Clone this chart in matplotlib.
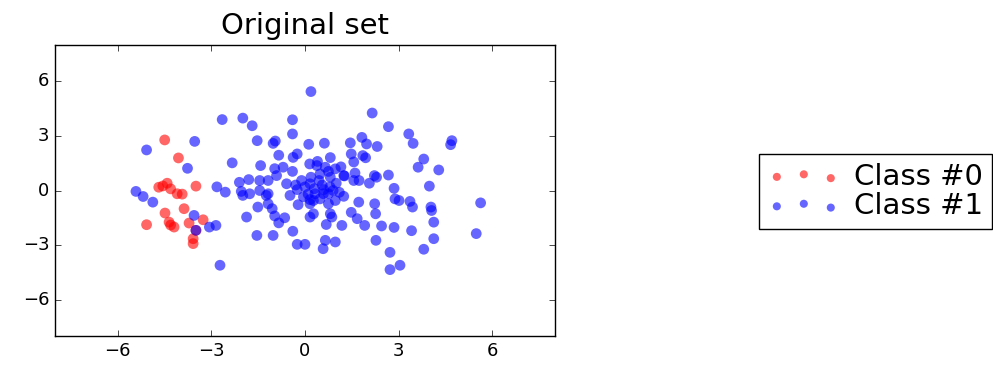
import numpy as np
import matplotlib
matplotlib.use("Agg")
import matplotlib.pyplot as plt

plt.style.use("classic")

# ── Data ──────────────────────────────────────────────────────────────────────
class0_x = [-4.49, -4.05, -3.49, -4.68, -4.41, -4.30, -4.09, -3.93, -3.87, -4.48,
            -5.07, -4.35, -4.30, -4.19, -3.71, -3.26, -3.49, -3.58, -3.58, -4.55]
class0_y = [2.78, 1.79, 0.24, 0.18, 0.40, 0.09, -0.18, -0.20, -1.00, -1.24,
            -1.88, -1.74, -1.90, -2.01, -1.79, -1.61, -2.19, -2.65, -2.92, 0.25]

class1_x = [
    # left
    -5.07, -3.53, -3.76, -2.65, -5.41, -5.18, -4.87, -3.55, -3.49, -3.06,
    -2.85, -2.72, -2.82, -2.55,
    # upper
    0.19, -1.99, -1.69, -0.40, 2.15, 2.67, -0.40, -1.53, -0.95, -1.02,
    0.12, 0.62, 1.45, 1.82, 1.97, 2.31, 3.32, 3.46, 4.70, 4.66,
    -0.84, -0.25, -0.38, -2.33, -1.42, 0.81, 1.48, 1.56, 1.85, 1.94,
    0.15, 0.38, 0.65, 0.97, -0.70, -0.97, -0.40, 3.80, 3.62, 4.28,
    1.26, 1.60, 2.22, 2.29, 2.67, 3.98, 2.85, -0.91,
    # central band
    -2.10, -2.04, -1.99, -1.77, -1.80, -1.45, -1.45, -1.18, -1.18, -1.24,
    -1.18, -1.51, -1.87, -1.05, -0.97, -0.84, -0.65, -1.54, -1.02, -0.39,
    -0.25, 0.00, -0.48, -0.25, -0.22, 0.16, 0.16, 0.27, -0.59, -0.11,
    0.16, 0.19, 0.48, 0.81, 1.24, 1.56, 1.73, 2.06, 0.32, 0.48,
    0.59, 0.75, 0.75, 0.97, 1.24, 1.72, 2.23, 2.88, 3.01, 3.36,
    3.44, 4.03, 4.05, 4.12, 5.62, 5.48, 2.26, 1.48, 1.67, 1.91,
    2.45, 2.85, 3.41, 2.27, 1.18, 0.68, 0.65, 0.58, 0.97, 2.72,
    2.72, 3.04, 3.80, 4.12, 0.16, 0.27, 0.81, 0.86,
    # dense core
    0.00, 0.30, 0.55, 0.80, 1.00, 0.45, -0.30, 0.10, 0.90, 1.10,
    0.60, -0.05, 0.75, 1.15, 0.40,
]
class1_y = [
    # left
    2.23, 2.70, 1.22, 3.90, -0.05, -0.33, -0.64, -1.37, -2.19, -2.01,
    -1.92, -4.11, 0.20, -0.09,
    # upper
    5.44, 3.98, 3.56, 3.89, 4.26, 3.51, 3.11, 2.74, 2.72, 2.59,
    2.54, 2.60, 2.62, 2.92, 2.56, 2.42, 3.11, 2.59, 2.74, 2.52,
    1.94, 2.01, 1.82, 1.52, 1.37, 1.81, 2.01, 1.57, 1.92, 1.80,
    1.46, 1.37, 1.28, 1.19, 1.28, 1.20, 1.05, 1.73, 1.28, 1.13,
    0.80, 0.96, 0.82, 0.73, 0.85, 0.24, 0.12, 0.82,
    # central band
    0.45, -0.05, -0.27, -0.18, 0.60, 0.55, 0.00, 0.55, -0.18, -0.27,
    -0.73, -0.91, -1.46, -1.00, -1.40, -1.78, -1.50, -2.47, -2.47, -2.24,
    -2.96, -2.96, -0.27, 0.05, -0.78, -1.46, -0.50, -0.55, 0.37, 0.55,
    0.37, 0.73, 0.91, 0.73, 0.82, 0.55, 0.55, 0.40, -0.18, -0.46,
    -0.18, -0.18, -0.73, -0.55, -0.32, -0.64, -0.73, -0.46, -0.55, -0.60,
    -0.91, -0.91, -1.10, -1.74, -0.68, -2.37, -1.28, -1.20, -1.55, -1.92,
    -1.95, -2.03, -2.21, -2.74, -1.92, -1.87, -2.74, -3.20, -2.83, -3.40,
    -4.35, -4.11, -3.23, -2.65, -0.73, -1.28, -1.28, -1.46,
    # dense core
    0.20, 0.10, 0.30, 0.20, 0.40, 0.55, 0.30, -0.20, 0.00, -0.10,
    0.05, -0.35, 1.05, 1.30, 1.60,
]

labels = ["Class #0", "Class #1"]
ticks = [-6, -3, 0, 3, 6]

# ── Figure ────────────────────────────────────────────────────────────────────
fig = plt.figure(figsize=(9.93, 3.75), dpi=100, facecolor="white")
ax = fig.add_axes([0.0554, 0.104, 0.5035, 0.776])

ax.scatter(class0_x, class0_y, s=60, c="red", alpha=0.6,
           edgecolors="none", label=labels[0])
ax.scatter(class1_x, class1_y, s=60, c="blue", alpha=0.6,
           edgecolors="none", label=labels[1])

ax.set_xlim(-8, 8)
ax.set_ylim(-8, 8)
ax.set_xticks(ticks)
ax.set_yticks(ticks)
ax.tick_params(labelsize=13)
ax.set_title("Original set", fontsize=21, pad=8)

handles, labs = ax.get_legend_handles_labels()
fig.legend(handles, labs, loc="center left", bbox_to_anchor=(0.75, 0.49),
           scatterpoints=3, markerscale=0.75, fontsize=21,
           labelspacing=0.05, handlelength=2.45, borderpad=0.3,
           handletextpad=0.5)

fig.savefig("out.png", dpi=100, facecolor="white")
